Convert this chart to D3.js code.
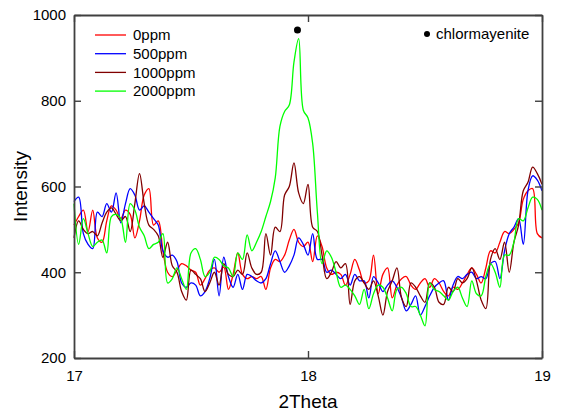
<!DOCTYPE html>
<html>
<head>
<meta charset="utf-8">
<script src="https://cdn.jsdelivr.net/npm/d3@7"></script>
<style>
  body { margin: 0; background: #fff; }
  svg { font-family: "Liberation Sans", Arial, sans-serif; }
</style>
</head>
<body>
<svg id="chart" width="561" height="412"></svg>
<script>
// 2Theta from 17 to 19, step 0.02
const thetaStart = 17, thetaStep = 0.02;

const ppm0 = [510, 530, 545, 495, 545, 480, 470, 520, 555, 545,
  525, 545, 535, 480, 520, 580, 595, 510, 520, 450,
  400, 390, 405, 420, 415, 405, 400, 370, 385, 405,
  410, 400, 412, 360, 395, 445, 395, 385, 390, 385,
  390, 360, 410, 430, 425, 440, 475, 500, 470, 460,
  470, 425, 485, 460, 410, 395, 400, 395, 370, 395,
  430, 405, 375, 380, 440, 350, 395, 410, 340, 370,
  385, 390, 370, 360, 375, 385, 365, 385, 375, 355,
  345, 365, 360, 375, 395, 410, 395, 375, 410, 450,
  445, 470, 495, 490, 500, 515, 570, 590, 595, 490, 480];

const ppm500 = [565, 575, 490, 465, 455, 540, 530, 560, 540, 585,
  515, 560, 595, 580, 545, 555, 540, 525, 510, 450,
  435, 440, 425, 375, 365, 375, 370, 345, 355, 385,
  430, 345, 435, 390, 365, 395, 360, 395, 390, 380,
  375, 385, 420, 450, 425, 400, 415, 440, 480, 465,
  440, 490, 430, 430, 400, 405, 395, 385, 395, 370,
  395, 380, 380, 340, 390, 375, 355, 370, 380, 365,
  340, 310, 325, 345, 300, 320, 345, 365, 375, 380,
  335, 370, 390, 385, 395, 400, 385, 390, 385, 420,
  425, 385, 450, 490, 505, 525, 465, 590, 625, 615, 590];

const ppm1000 = [480, 520, 500, 490, 495, 485, 515, 540, 550, 535,
  520, 530, 495, 560, 630, 560, 510, 500, 485, 435,
  470, 415, 400, 355, 335, 405, 395, 385, 355, 375,
  400, 370, 420, 395, 390, 405, 395, 445, 410, 395,
  400, 490, 440, 505, 495, 580, 600, 655, 585, 560,
  605, 505, 495, 440, 385, 400, 425, 410, 420, 325,
  380, 390, 375, 360, 380, 345, 300, 355, 380, 410,
  340, 320, 375, 365, 345, 330, 375, 365, 330, 325,
  365, 355, 385, 375, 385, 410, 380, 335, 315, 430,
  455, 430, 470, 400, 470, 510, 590, 610, 645, 630, 605];

const ppm2000 = [560, 465, 525, 490, 460, 470, 475, 445, 530, 535,
  525, 470, 560, 545, 505, 485, 455, 465, 470, 490,
  375, 385, 410, 385, 360, 445, 455, 430, 390, 400,
  435, 430, 415, 410, 390, 445, 430, 487, 450, 470,
  495, 530, 565, 620, 740, 775, 790, 890, 945, 778,
  760, 700, 540, 420, 450, 435, 400, 365, 370, 360,
  345, 325, 360, 315, 350, 370, 365, 340, 310, 360,
  365, 350, 320, 320, 300, 275, 375, 360, 355, 345,
  335, 355, 365, 340, 320, 380, 350, 345, 390, 420,
  400, 365, 440, 440, 470, 525, 520, 550, 575, 570, 545];

const seriesNames = ["0ppm", "500ppm", "1000ppm", "2000ppm"];
const seriesValues = [ppm0, ppm500, ppm1000, ppm2000];
const colors = ["#ff0000", "#0000ff", "#800000", "#00ff00"];

const xTicks = [17, 18, 19];
const yTicks = [200, 400, 600, 800, 1000];
const peakMark = { theta: 17.955, intensity: 965, label: "chlormayenite" };

const svg = d3.select("#chart");
const margin = { left: 74, right: 19, top: 15, bottom: 54 };
const width = 561, height = 412;
const axisColor = "#404040";

const x = d3.scaleLinear().domain([17, 19]).range([margin.left, width - margin.right]);
const y = d3.scaleLinear().domain([200, 1000]).range([height - margin.bottom, margin.top]);

const line = d3.line()
  .x((d, i) => x(thetaStart + i * thetaStep))
  .y(d => y(d))
  .curve(d3.curveCatmullRom.alpha(0.5));

const plot = svg.append("g");
seriesValues.forEach((vals, k) => {
  plot.append("path")
    .datum(vals)
    .attr("fill", "none")
    .attr("stroke", colors[k])
    .attr("stroke-width", 1.3)
    .attr("d", line);
});

// axes: mirrored box with inward ticks
const tickLen = 7;
const axisBottomG = svg.append("g").attr("transform", `translate(0,${y(200)})`)
  .call(d3.axisBottom(x).tickValues(xTicks).tickFormat(d3.format("d")).tickSizeInner(-tickLen).tickSizeOuter(0).tickPadding(12));
const axisLeftG = svg.append("g").attr("transform", `translate(${x(17)},0)`)
  .call(d3.axisLeft(y).tickValues(yTicks).tickFormat(d3.format("d")).tickSizeInner(-tickLen).tickSizeOuter(0).tickPadding(8));
const axisTopG = svg.append("g").attr("transform", `translate(0,${y(1000)})`)
  .call(d3.axisTop(x).tickValues(xTicks).tickFormat("").tickSizeInner(-tickLen).tickSizeOuter(0));
const axisRightG = svg.append("g").attr("transform", `translate(${x(19)},0)`)
  .call(d3.axisRight(y).tickValues(yTicks).tickFormat("").tickSizeInner(-tickLen).tickSizeOuter(0));

[axisBottomG, axisLeftG, axisTopG, axisRightG].forEach(g => {
  g.select(".domain").attr("stroke", axisColor).attr("stroke-width", 1.8);
  g.selectAll(".tick line").attr("stroke", axisColor).attr("stroke-width", 1.4);
  g.selectAll(".tick text").attr("fill", "#000").style("font-size", "15px")
    .style("font-family", "'Liberation Sans', Arial, sans-serif");
});

svg.append("text")
  .attr("x", x(18)).attr("y", 408)
  .attr("text-anchor", "middle")
  .style("font-size", "19px")
  .text("2Theta");

svg.append("text")
  .attr("transform", `translate(27,${(y(200) + y(1000)) / 2}) rotate(-90)`)
  .attr("text-anchor", "middle")
  .style("font-size", "19px")
  .text("Intensity");

// legend
const legend = svg.append("g").attr("transform", "translate(95,35)");
seriesNames.forEach((name, k) => {
  const row = legend.append("g").attr("transform", `translate(0,${k * 18.7})`);
  row.append("line").attr("x1", 0).attr("x2", 31).attr("stroke", colors[k]).attr("stroke-width", 1.3);
  row.append("text").attr("x", 38).attr("dy", "0.35em").style("font-size", "15px").text(name);
});

// peak marker
svg.append("circle")
  .attr("cx", x(peakMark.theta)).attr("cy", y(peakMark.intensity))
  .attr("r", 3.5).attr("fill", "#000");
svg.append("circle").attr("cx", 427).attr("cy", 34).attr("r", 3).attr("fill", "#000");
svg.append("text").attr("x", 436).attr("y", 34).attr("dy", "0.35em")
  .style("font-size", "15px").text(peakMark.label);
</script>
</body>
</html>
